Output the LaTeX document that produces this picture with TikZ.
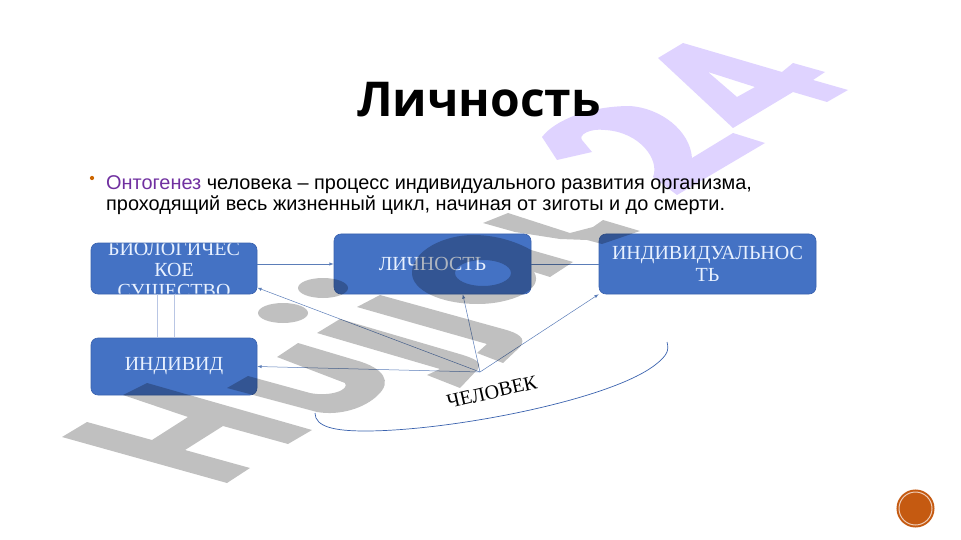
\documentclass[tikz,border=0pt]{standalone}
\usepackage{xcolor}
\usepackage{fontspec}
\setmainfont{Liberation Sans}
\newfontfamily\boxfont{Liberation Serif}
\newfontfamily\titlefont{Open Sans}
\usetikzlibrary{calc}
\usetikzlibrary{arrows}
\usetikzlibrary{arrows.meta}
\usetikzlibrary{shapes}
\definecolor{boxblue}{HTML}{4472C4}
\definecolor{boxedge}{HTML}{3A62AE}
\definecolor{boxtext}{HTML}{E8F1FF}
\definecolor{linkblue}{HTML}{5B7DB8}
\definecolor{paleblue}{HTML}{B9C6E4}
\definecolor{onto}{HTML}{7030A0}
\definecolor{wmgrey}{HTML}{C0C0C0}
\definecolor{wmlilac}{HTML}{DFD3FF}
\definecolor{numorange}{HTML}{C55A11}
\tikzset{>=latex}
\tikzstyle{box} = [rectangle, rounded corners=7pt, draw=boxedge, fill=boxblue, line width=0.6pt, inner sep=0pt, text=boxtext, align=center, font=\boxfont\fontsize{20}{21}\selectfont]
\tikzstyle{link} = [-latex, draw=linkblue, line width=0.5pt]
\tikzstyle{rung} = [-, draw=paleblue, line width=1pt]

\begin{document}
\begin{tikzpicture}[x=1pt, y=-1pt]
\useasboundingbox (0, 0) rectangle (961, 540);
\node [anchor=base, inner sep=0pt, font=\titlefont\bfseries\fontsize{48}{50}\selectfont] (title) at (479, 117) {Личность};
\node [circle, fill=orange!80!black, inner sep=1.5pt] (dot) at (92, 178) {};
\node [anchor=north west, inner sep=0pt, align=left, font=\fontsize{19.9}{20.5}\selectfont] (body) at (106, 175.5) {\textcolor{onto}{Онтогенез} человека -- процесс индивидуального развития организма,\\проходящий весь жизненный цикл, начиная от зиготы и до смерти.};
\node [box, minimum width=166pt, minimum height=51pt, path picture={\node [text=boxtext, align=center, inner sep=0pt, yshift=-3.5pt, font=\boxfont\fontsize{20}{21}\selectfont] at (path picture bounding box.center) {БИОЛОГИЧЕС\\КОЕ\\СУЩЕСТВО};}] (bio) at (174, 268.5) {};
\node [box, minimum width=197pt, minimum height=60pt] (lich) at (432.5, 264) {\raisebox{-2pt}{ЛИЧНОСТЬ}};
\node [box, minimum width=217pt, minimum height=60pt] (indiv) at (707.5, 264) {ИНДИВИДУАЛЬНОС\\[1pt]ТЬ};
\node [box, minimum width=166pt, minimum height=57pt] (ind) at (174, 366.5) {\raisebox{-2pt}{ИНДИВИД}};
\node [rotate=13, inner sep=0pt, font=\boxfont\fontsize{20}{21}\selectfont] (man) at (492, 392) {ЧЕЛОВЕК};
\coordinate (hub) at (480, 372);
\coordinate (arcA) at (315, 413);
\coordinate (arcB) at (667, 342);
\draw [link] (bio.east |- lich.west) to (lich.west);
\draw [-, draw=linkblue, line width=0.5pt] (lich.east) to (indiv.west);
\draw [rung] ($(bio.south)+(-17, 0)$) to ($(ind.north)+(-17, 0)$);
\draw [rung] (bio.south) to (ind.north);
\draw [link] (hub) to (bio.-13);
\draw [link] (hub) to (ind.east);
\draw [link] (hub) to (lich.-45);
\draw [link] (hub) to (indiv.south west);
\draw [draw=boxedge, line width=0.7pt] (arcA) .. controls (315, 427) and (335, 431) .. (365, 431) .. controls (450, 431) and (610, 400) .. (655, 365) .. controls (668, 355) and (669, 350) .. (arcB);
\node [circle, draw=numorange, line width=2pt, fill=numorange, minimum size=33pt, inner sep=0pt, double=white!70!numorange, double distance=1pt] (num) at (915.5, 508.5) {};
% watermark
\begin{scope}[blend mode=multiply]
\fill [wmgrey] (123, 395) -- (147, 383) -- (312, 430) -- (288, 444) -- (223, 426) -- (185, 450) -- (250, 468) -- (227, 483) -- (62, 437) -- (87, 422) -- (152, 440) -- (188, 417) -- cycle;
\fill [wmgrey] (277, 357) -- (298, 343) -- (355, 360) .. controls (385, 368) and (392, 382) .. (378, 395) .. controls (365, 408) and (340, 416) .. (317, 412) -- (227, 388) -- (248, 376) -- (310, 393) .. controls (330, 397) and (350, 390) .. (345, 383) -- cycle;
\fill [wmgrey] (283, 313) ellipse [x radius=25, y radius=10];
\fill [wmgrey] (323, 288) ellipse [x radius=25, y radius=10];
\fill [wmgrey] (317, 333) -- (340, 319) -- (463, 355) .. controls (475, 359) and (482, 362) .. (478, 369) -- (460, 388) -- (427, 375) -- (440, 369) -- cycle;
\fill [wmgrey] (357, 307) -- (380, 295) -- (503, 329) .. controls (518, 333) and (527, 338) .. (520, 347) -- (503, 363) -- (477, 353) -- (487, 344) -- cycle;
\fill [wmgrey, even odd rule] (531, 250) -- (573, 262) -- (550, 277) -- (534, 272) .. controls (545, 290) and (510, 304) .. (478, 304) .. controls (440, 304) and (412, 290) .. (412, 273) .. controls (412, 250) and (445, 235) .. (473, 235) .. controls (495, 235) and (515, 241) .. (531, 250) -- cycle (483, 273) ellipse [x radius=28, y radius=13];
\fill [wmgrey] (483, 223) -- (508, 213) -- (570, 233) -- (593, 227) -- (603, 220) -- (640, 231) -- (602, 244) -- (587, 240) -- (560, 239) -- (515, 232) -- cycle;
\fill [wmlilac, even odd rule] (542, 137) .. controls (555, 120) and (590, 106) .. (630, 106) .. controls (660, 108) and (690, 130) .. (692, 158) -- (733, 133) -- (765, 143) -- (677, 195) -- (653, 177) .. controls (660, 160) and (640, 132) .. (605, 130) .. controls (590, 128) and (578, 135) .. (582, 140) -- (592, 152) -- (557, 160) -- cycle;
\fill [wmlilac, even odd rule] (658, 58) -- (683, 43) -- (782, 72) -- (793, 63) -- (825, 72) -- (813, 80) -- (848, 90) -- (827, 102) -- (793, 92) -- (733, 128) -- cycle (708, 72) -- (755, 87) -- (737, 97) -- cycle;
\end{scope}
\end{tikzpicture}
\end{document}
